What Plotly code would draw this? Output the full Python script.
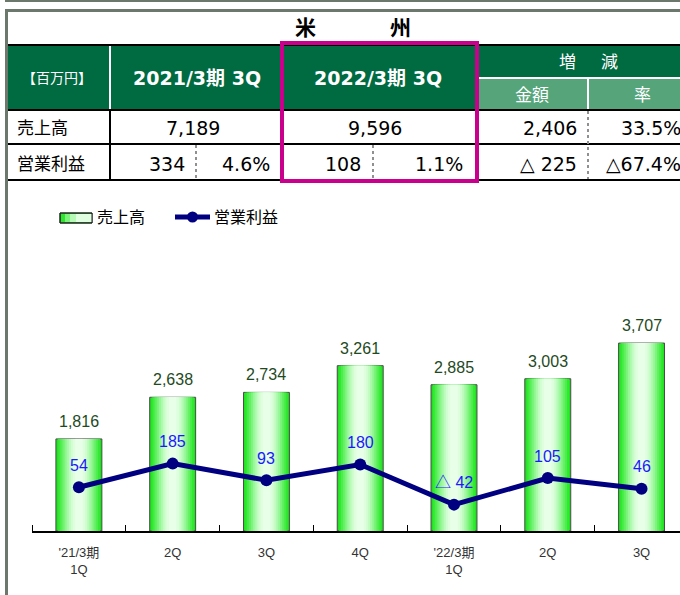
import plotly.graph_objects as go

W, H = 680, 595


def X(px):
    return px / W


def Y(py):
    return 1 - py / H


# ---------------- data ----------------
categories = ["'21/3期<br>1Q", "2Q", "3Q", "4Q", "'22/3期<br>1Q", "2Q", "3Q"]
sales = [1816, 2638, 2734, 3261, 2885, 3003, 3707]
op_profit = [54, 185, 93, 180, -42, 105, 46]

region = ["米", "州"]
unit_label = "【百万円】"
period_headers = ["2021/3期 3Q", "2022/3期 3Q"]
change_header = ["増", "減"]
change_sub = ["金額", "率"]
row_labels = ["売上高", "営業利益"]
sales_row = ["7,189", "9,596", "2,406", "33.5%"]
op_row = ["334", "4.6%", "108", "1.1%", "△ 225", "△67.4%"]
legend_labels = ["売上高", "営業利益"]


def fmt_op(v):
    return f"△ {abs(v)}" if v < 0 else f"{v}"


xs = list(range(len(categories)))

TFONT = "DejaVu Sans, Verdana, Noto Sans CJK JP, sans-serif"
CFONT = "Liberation Sans, Arial, Noto Sans CJK JP, sans-serif"

fig = go.Figure()

# gradient-like bars: overlay of narrowing, lighter bars
layers = [
    (0.49, "#1FE31F", 1),
    (0.45, "#33E833", 0),
    (0.41, "#4BED4B", 0),
    (0.37, "#63F063", 0),
    (0.33, "#7CF47C", 0),
    (0.29, "#95F795", 0),
    (0.25, "#ABF9AB", 0),
    (0.21, "#C0FBC0", 0),
    (0.17, "#D1FDD1", 0),
    (0.13, "#DEFEDE", 0),
    (0.08, "#E8FFE8", 0),
]
for w, c, lw in layers:
    fig.add_trace(go.Bar(
        x=xs, y=sales, width=w,
        marker=dict(color=c, line=dict(color="#4A4A4A", width=lw)),
        showlegend=False, hoverinfo="skip",
    ))

fig.add_trace(go.Scatter(
    x=xs, y=op_profit, yaxis="y2", mode="lines+markers",
    line=dict(color="#000080", width=5),
    marker=dict(color="#000080", size=12),
    showlegend=False, cliponaxis=False,
))

annotations = []
for i, s in enumerate(sales):
    annotations.append(dict(
        x=i, y=s, xref="x", yref="y", text=f"{s:,}", showarrow=False,
        yanchor="bottom", yshift=7,
        font=dict(family=CFONT, size=16, color="#1E4A1E"),
    ))
for i, v in enumerate(op_profit):
    annotations.append(dict(
        x=i, y=v, xref="x", yref="y2", text=fmt_op(v), showarrow=False,
        yanchor="middle", yshift=22,
        font=dict(family=CFONT, size=16, color="#1A1AFF"),
    ))


def txt(x, y, t, size=17, color="black", bold=False, anchor="center", font=TFONT):
    annotations.append(dict(
        x=X(x), y=Y(y), xref="paper", yref="paper",
        text=f"<b>{t}</b>" if bold else t, showarrow=False,
        xanchor=anchor, yanchor="middle",
        font=dict(family=font, size=size, color=color),
    ))


# table texts
txt(305, 28, region[0], size=21, bold=True)
txt(400, 28, region[1], size=21, bold=True)
txt(57, 78, unit_label, size=14, color="white")
txt(197, 78, period_headers[0], size=19, color="white", bold=True)
txt(378, 78, period_headers[1], size=19, color="white", bold=True)
txt(567, 62, change_header[0], size=17, color="white")
txt(609, 62, change_header[1], size=17, color="white")
txt(532, 95, change_sub[0], size=17, color="white")
txt(642, 95, change_sub[1], size=17, color="white")
txt(15, 128, row_labels[0], size=17, anchor="left")
txt(15, 164, row_labels[1], size=17, anchor="left")
txt(193, 128, sales_row[0], size=19)
txt(375, 128, sales_row[1], size=19)
txt(579, 128, sales_row[2], size=19, anchor="right")
txt(683, 128, sales_row[3], size=19, anchor="right")
txt(187, 164, op_row[0], size=19, anchor="right")
txt(272, 164, op_row[1], size=19, anchor="right")
txt(363, 164, op_row[2], size=19, anchor="right")
txt(465, 164, op_row[3], size=19, anchor="right")
txt(579, 164, op_row[4], size=19, anchor="right")
txt(683, 164, op_row[5], size=19, anchor="right")

# legend texts
txt(95, 217, legend_labels[0], size=16, anchor="left", font=CFONT)
txt(212, 217, legend_labels[1], size=16, anchor="left", font=CFONT)

shapes = []


def rect(x0, y0, x1, y1, fill=None, line_color=None, lw=0):
    shapes.append(dict(
        type="rect", xref="paper", yref="paper",
        x0=X(x0), x1=X(x1), y0=Y(y1), y1=Y(y0),
        fillcolor=fill if fill else "rgba(0,0,0,0)",
        line=dict(color=line_color if line_color else "rgba(0,0,0,0)", width=lw),
    ))


def line(x0, y0, x1, y1, color, w=2, dash="solid"):
    shapes.append(dict(
        type="line", xref="paper", yref="paper",
        x0=X(x0), x1=X(x1), y0=Y(y0), y1=Y(y1),
        line=dict(color=color, width=w, dash=dash),
    ))


FRAME = "#6B786B"
rect(5, 0, 680, 2, fill=FRAME)
rect(5, 9, 680, 12, fill=FRAME)
rect(5, 9, 8, 595, fill=FRAME)

# header
rect(8, 46, 680, 110, fill="#006A41")
rect(476, 78, 680, 110, fill="#55A47A")
line(110, 46, 110, 110, "white", 2)
line(476, 78, 680, 78, "white", 2)
line(588, 78, 588, 110, "white", 2)

# body lines
line(8, 45, 680, 45, "black", 2)
line(8, 110, 680, 110, "black", 2)
line(8, 144, 680, 144, "black", 2)
line(8, 180, 680, 180, "black", 2)
line(110, 110, 110, 180, "black", 2)
line(196, 145, 196, 179, "#909090", 2, "dot")
line(373, 145, 373, 179, "#909090", 2, "dot")
line(588, 111, 588, 179, "#909090", 2, "dot")

# highlight box
rect(282, 43, 477, 181, line_color="#C8008C", lw=4)

# legend swatches
rect(60, 213, 92, 223, fill="#2FE52F", line_color="#222222", lw=1)
rect(65, 214, 92, 222, fill="#7CF47C")
rect(70, 214, 92, 222, fill="#B5FAB5")
rect(76, 214, 92, 222, fill="#E0FFE0")
rect(60, 213, 92, 223, line_color="#222222", lw=1)
line(175, 217, 210, 217, "#000080", 5)
shapes.append(dict(
    type="circle", xref="paper", yref="paper",
    x0=X(187), x1=X(198), y0=Y(222.5), y1=Y(211.5),
    fillcolor="#000080", line=dict(color="#000080", width=0),
))

fig.update_layout(
    width=W, height=H,
    margin=dict(l=0, r=0, t=0, b=0),
    paper_bgcolor="white", plot_bgcolor="white",
    barmode="overlay",
    showlegend=False,
    xaxis=dict(
        domain=[X(32), 1], range=[-0.5, 6.41],
        tickmode="array", tickvals=xs, ticktext=categories,
        ticks="", showgrid=False, zeroline=False,
        showline=True, linecolor="black", linewidth=2,
        tickfont=dict(family=CFONT, size=13, color="#333333"),
        ticklabelstandoff=8,
        minor=dict(tick0=-0.5, dtick=1, ticks="inside", ticklen=6,
                   tickcolor="black", tickwidth=1, showgrid=False),
    ),
    yaxis=dict(domain=[Y(531), Y(240)], range=[0, 5740], visible=False),
    yaxis2=dict(overlaying="y", range=[-188, 1423], visible=False),
    annotations=annotations,
    shapes=shapes,
)

fig.write_html(
    "out.html",
    config={"displayModeBar": False},
    post_script="document.body.style.margin='0';document.body.style.padding='0';",
)
